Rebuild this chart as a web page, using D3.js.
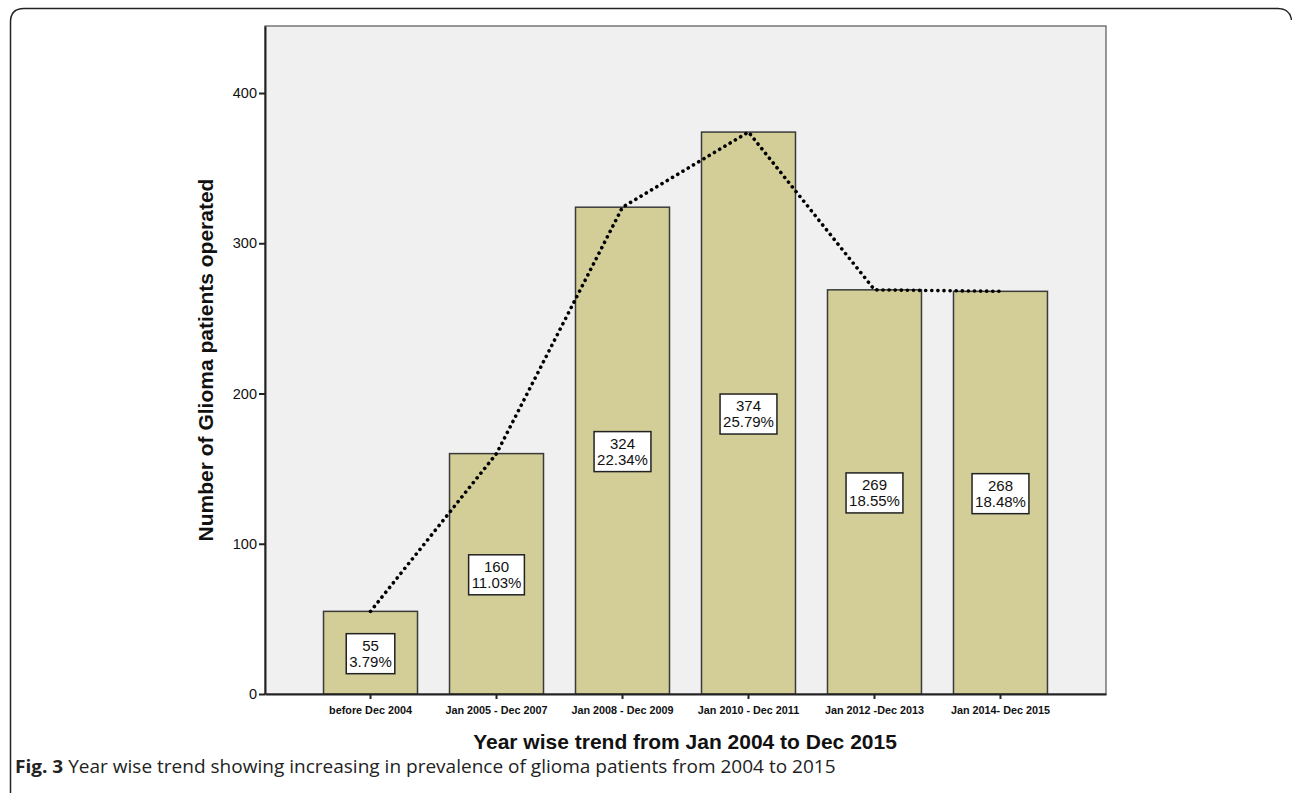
<!DOCTYPE html>
<html><head><meta charset="utf-8">
<script src="https://cdn.jsdelivr.net/npm/d3@7"></script>
<style>html,body{margin:0;padding:0;background:#fff;}svg{display:block;}</style>
</head><body>
<svg id="c" width="1292" height="793"></svg>
<script>
const categories = ["before Dec 2004","Jan 2005 - Dec 2007","Jan 2008 - Dec 2009","Jan 2010 - Dec 2011","Jan 2012 -Dec  2013","Jan 2014- Dec 2015"];
const counts = [55,160,324,374,269,268];
const percents = ["3.79%","11.03%","22.34%","25.79%","18.55%","18.48%"];
const yTicks = [0,100,200,300,400];
const yMax = 444.6;

const svg = d3.select("#c");
// outer frame
svg.append("path")
  .attr("d","M10.5,793 L10.5,22 Q10.5,8.5 24,8.5 L1278,8.5 Q1290,8.5 1291.5,20")
  .attr("fill","none").attr("stroke","#222").attr("stroke-width",1.5);

const L=265, R=1106, T=26, B=694;
const x = d3.scaleBand().domain(categories).range([L,R]).paddingInner(0.254).paddingOuter(0.4645);
const y = d3.scaleLinear().domain([0,yMax]).range([B,T]);

svg.append("rect").attr("x",L).attr("y",T).attr("width",R-L).attr("height",B-T).attr("fill","#f0f0f0")
  .attr("stroke","#555").attr("stroke-width",1.2);

const data = categories.map((c,i)=>({c,v:counts[i],p:percents[i]}));

svg.selectAll("rect.bar").data(data).enter().append("rect").attr("class","bar")
  .attr("x",d=>x(d.c)).attr("y",d=>y(d.v)).attr("width",x.bandwidth()).attr("height",d=>B-y(d.v))
  .attr("fill","#d3ce98").attr("stroke","#3a3a3a").attr("stroke-width",1.5);

// axes
const yAxis = d3.axisLeft(y).tickValues(yTicks).tickSize(6).tickSizeOuter(0).tickPadding(2);
const gy = svg.append("g").attr("transform",`translate(${L},0)`).call(yAxis);
gy.select(".domain").attr("stroke","#222").attr("stroke-width",2);
gy.selectAll(".tick line").attr("stroke","#222").attr("stroke-width",2);
gy.selectAll("text").attr("font-family","Arial, 'Liberation Sans', sans-serif").attr("font-size",14.5).attr("fill","#111");

const xAxis = d3.axisBottom(x).tickSize(5).tickSizeOuter(0).tickPadding(7);
const gx = svg.append("g").attr("transform",`translate(0,${B})`).call(xAxis);
gx.select(".domain").attr("stroke","#222").attr("stroke-width",2);
gx.selectAll(".tick line").attr("stroke","#222").attr("stroke-width",2);
gx.selectAll("text").attr("font-family","Arial, 'Liberation Sans', sans-serif").attr("font-size",10.8).attr("font-weight","bold").attr("fill","#111");

// dotted line
const line = d3.line().x(d=>x(d.c)+x.bandwidth()/2).y(d=>y(d.v));
svg.append("path").datum(data).attr("d",line).attr("fill","none").attr("stroke","#000")
  .attr("stroke-width",3.6).attr("stroke-dasharray","0.1,6").attr("stroke-linecap","round");

// label boxes
const lg = svg.selectAll("g.lab").data(data).enter().append("g").attr("class","lab")
  .attr("transform",d=>`translate(${x(d.c)+x.bandwidth()/2},${(y(d.v)+B)/2+1})`);
lg.each(function(d){
  const g=d3.select(this);
  const r=g.append("rect");
  const t=g.append("text").attr("text-anchor","middle").attr("font-family","Arial, 'Liberation Sans', sans-serif").attr("font-size",15).attr("fill","#111");
  t.append("tspan").attr("x",0).attr("y",-3).text(d.v);
  t.append("tspan").attr("x",0).attr("y",13).text(d.p);
  const w=t.node().getBBox().width+6;
  r.attr("x",-w/2).attr("y",-20).attr("width",w).attr("height",40).attr("fill","#fff").attr("stroke","#222").attr("stroke-width",1.5);
});

// axis titles
svg.append("text").attr("x",685).attr("y",749).attr("text-anchor","middle")
  .attr("font-family","Arial, 'Liberation Sans', sans-serif").attr("font-weight","bold").attr("font-size",21).attr("fill","#111")
  .text("Year wise trend from Jan 2004 to Dec 2015");
svg.append("text").attr("transform","translate(213,360) rotate(-90)").attr("text-anchor","middle")
  .attr("font-family","Arial, 'Liberation Sans', sans-serif").attr("font-weight","bold").attr("font-size",21).attr("fill","#111")
  .text("Number of Glioma patients operated");

// caption
const cap = svg.append("text").attr("x",0).attr("y",0).attr("font-family","'Open Sans', sans-serif").attr("font-size",18).attr("fill","#222");
cap.append("tspan").attr("font-weight","bold").text("Fig. 3");
cap.append("tspan").text(" Year wise trend showing increasing in prevalence of glioma patients from 2004 to 2015");
const cw = cap.node().getComputedTextLength();
cap.attr("transform",`translate(15,773) scale(${821/cw},1)`);
</script>
</body></html>
